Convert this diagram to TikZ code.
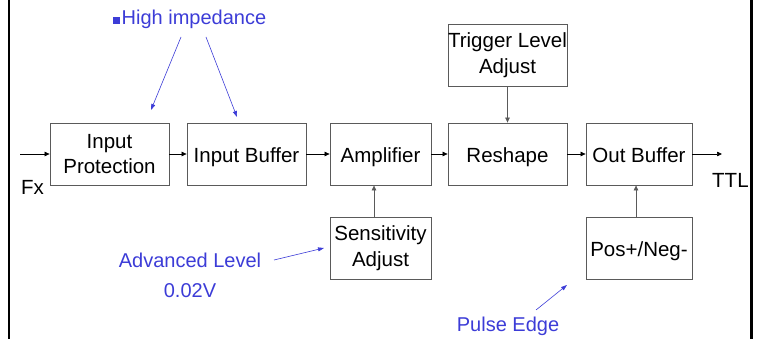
\documentclass[tikz,border=0pt]{standalone}
\usepackage{fontspec}
\setmainfont{Liberation Sans}
\usetikzlibrary{arrows.meta}
\definecolor{note}{RGB}{60,60,215}
\definecolor{frame}{RGB}{90,90,90}
\tikzset{
  block/.style={draw=frame, line width=0.8pt, align=center, inner sep=0pt,
    font=\fontsize{20.5}{25.5}\selectfont},
  oneline/.style={text height=22pt, text depth=4pt},
  flow/.style={draw=black, line width=0.7pt, -{Triangle[length=5pt,width=4.5pt]}},
  feed/.style={draw=frame, line width=0.7pt, -{Triangle[length=5pt,width=4.5pt]}},
  remark/.style={text=note, font=\fontsize{20}{24}\selectfont, inner sep=0pt},
  pointer/.style={draw=note, line width=0.6pt, -{Triangle[length=6pt,width=4pt]}},
  label/.style={font=\fontsize{20.5}{24}\selectfont, inner sep=0pt}
}
\begin{document}
\begin{tikzpicture}[x=1pt, y=-1pt]
\useasboundingbox (0,0) rectangle (757,339);
% side rules
\draw[line width=2.6pt] (9,0) -- (9,339);
\draw[line width=2.6pt] (751.5,0) -- (751.5,339);

% main chain
\node[block, minimum width=119pt, minimum height=62pt] (prot) at (109.5,154) {Input\\Protection};
\node[block, oneline, minimum width=119pt, minimum height=62pt] (ibuf) at (246.5,154) {Input Buffer};
\node[block, oneline, minimum width=101pt, minimum height=62pt] (amp) at (380.5,154) {Amplifier};
\node[block, oneline, minimum width=119pt, minimum height=62pt] (resh) at (507.5,154) {Reshape};
\node[block, oneline, minimum width=106pt, minimum height=62pt] (obuf) at (639,154) {Out Buffer};

% side controls
\node[block, minimum width=119pt, minimum height=62pt] (trig) at (507.5,55) {Trigger Level\\Adjust};
\node[block, minimum width=101pt, minimum height=62pt] (sens) at (380.5,248) {Sensitivity\\Adjust};
\node[block, text height=20pt, text depth=4pt, minimum width=106pt, minimum height=62pt] (pol) at (639,248) {Pos+/Neg-};

% signal in/out
\coordinate (in) at (20,154);
\coordinate (out) at (722,154);
\node[label, anchor=west] (fx) at (21,187) {Fx};
\node[label, anchor=west] (ttl) at (712,180) {TTL};

\draw[flow] (in) -- (prot.west |- in);
\draw[flow] (prot.east |- in) -- (ibuf.west |- in);
\draw[flow] (ibuf.east |- in) -- (amp.west |- in);
\draw[flow] (amp.east |- in) -- (resh.west |- in);
\draw[flow] (resh.east |- in) -- (obuf.west |- in);
\draw[flow] (obuf.east |- in) -- (out);

\draw[feed] (trig.south) -- (resh.north);
\draw[feed] (sens.north -| 374,0) -- (amp.south -| 374,0);
\draw[feed] (pol.north -| 636,0) -- (obuf.south -| 636,0);

% annotations
\fill[note] (113,17.5) rectangle (120,24.5);
\node[remark, anchor=west] (hi) at (121.5,19) {High impedance};
\coordinate (hiA) at (181,37);
\coordinate (hiB) at (206,37);
\coordinate (hiAend) at (151,110);
\coordinate (hiBend) at (237,117);
\draw[pointer] (hiA) -- (hiAend);
\draw[pointer] (hiB) -- (hiBend);

\node[remark] (adv) at (190,260) {Advanced Level};
\node[remark] (lvl) at (190,291) {0.02V};
\coordinate (advS) at (274,260);
\coordinate (advE) at (324,248);
\draw[pointer] (advS) -- (advE);

\node[remark] (edge) at (508,326) {Pulse Edge};
\coordinate (edgS) at (536,310);
\coordinate (edgE) at (567,285);
\draw[pointer] (edgS) -- (edgE);
\end{tikzpicture}
\end{document}
